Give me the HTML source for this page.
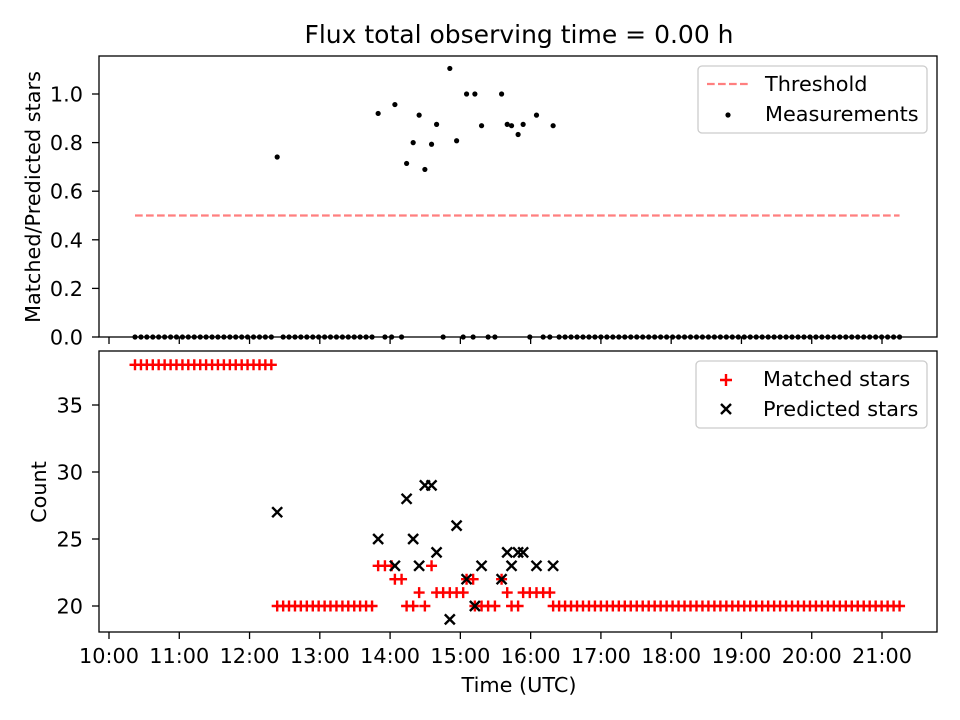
<!DOCTYPE html>
<html><head><meta charset="utf-8"><style>
html,body{margin:0;padding:0;background:#fff;}
svg{display:block;font-family:"DejaVu Sans","Liberation Sans",sans-serif;}
</style></head><body>
<svg id="fig" width="960" height="720" viewBox="0 0 960 720" xmlns="http://www.w3.org/2000/svg">
<rect width="960" height="720" fill="#fff"/>
<text x="519" y="43" font-size="25" text-anchor="middle">Flux total observing time = 0.00 h</text>
<g id="topPanel"></g>
<g id="botPanel"></g>
<text x="519" y="692" font-size="20.8" text-anchor="middle">Time (UTC)</text>
<text transform="translate(40,197) rotate(-90)" font-size="20.8" text-anchor="middle">Matched/Predicted stars</text>
<text transform="translate(46,492) rotate(-90)" font-size="20.8" text-anchor="middle">Count</text>
</svg>
<script>
// observation times in minutes after 10:00 UTC
const obsTimes = [22.2,27.3,32.3,37.4,42.4,47.5,52.6,57.6,62.7,67.7,72.8,77.9,82.9,88.0,93.0,98.1,103.2,108.2,113.3,118.3,123.4,128.5,133.5,138.6,
143.6,148.7,153.7,158.8,163.8,168.9,174.0,179.0,184.1,189.1,194.2,199.3,204.3,209.4,214.4,219.5,224.6,
229.8,235.6,241.3,244.1,249.8,254.1,259.7,264.8,269.7,275.4,279.7,285.3,291.0,296.8,302.4,305.3,310.9,312.4,318.1,323.7,329.5,335.2,340.0,343.7,349.3,353.6,359.3,365.0,370.7,376.4,
379.2,384.3,389.4,394.5,399.6,404.7,409.8,414.9,420.0,425.1,430.2,435.3,440.4,445.5,450.6,455.7,460.8,465.9,471.0,476.1,481.2,486.3,491.4,496.5,501.6,506.7,511.8,516.9,522.0,527.1,532.2,537.3,542.4,547.5,552.6,557.7,562.8,567.9,573.0,578.1,583.2,588.3,593.4,598.5,603.6,608.7,613.8,618.9,624.0,629.1,634.2,639.3,644.4,649.5,654.6,659.7,664.8,669.9,675.0];
const matchedVals = [38,38,38,38,38,38,38,38,38,38,38,38,38,38,38,38,38,38,38,38,38,38,38,38,
20,20,20,20,20,20,20,20,20,20,20,20,20,20,20,20,20,
23,23,23,22,22,20,20,21,20,23,21,21,21,21,21,22,22,20,20,20,20,22,21,20,20,21,21,21,21,21,
20,20,20,20,20,20,20,20,20,20,20,20,20,20,20,20,20,20,20,20,20,20,20,20,20,20,20,20,20,20,20,20,20,20,20,20,20,20,20,20,20,20,20,20,20,20,20,20,20,20,20,20,20,20,20,20,20,20,20];
// predicted counts (0 = no prediction)
const predictedVals = [0,0,0,0,0,0,0,0,0,0,0,0,0,0,0,0,0,0,0,0,0,0,0,0,
27,0,0,0,0,0,0,0,0,0,0,0,0,0,0,0,0,
25,0,0,23,0,28,25,23,29,29,24,0,19,26,0,22,0,20,23,0,0,22,24,23,24,24,0,23,0,0,
23,0,0,0,0,0,0,0,0,0,0,0,0,0,0,0,0,0,0,0,0,0,0,0,0,0,0,0,0,0,0,0,0,0,0,0,0,0,0,0,0,0,0,0,0,0,0,0,0,0,0,0,0,0,0,0,0,0,0];
const threshold = 0.5;
const xTickLabels = ["10:00","11:00","12:00","13:00","14:00","15:00","16:00","17:00","18:00","19:00","20:00","21:00"];
const xTickMins = [0,60,120,180,240,300,360,420,480,540,600,660];
const topTicks = [0,0.2,0.4,0.6,0.8,1.0];
const botTicks = [20,25,30,35];

const NS="http://www.w3.org/2000/svg";
function mk(tag,attrs,parent){const e=document.createElementNS(NS,tag);for(const k in attrs)e.setAttribute(k,attrs[k]);parent.appendChild(e);return e;}
const L=99,R=937,FS=20.8;
const xs=m=>109+(m)*(773/660);
const yTop=v=>337-v*243;
const yBot=v=>606-(v-20)*13.4;
const topG=document.getElementById('topPanel'), botG=document.getElementById('botPanel');

const th=mk('line',{x1:xs(obsTimes[0]),x2:xs(obsTimes[obsTimes.length-1]),y1:yTop(threshold),y2:yTop(threshold),stroke:'#ff7f7f','stroke-width':2.2,'stroke-dasharray':'7.7,3.3'},topG);


obsTimes.forEach((t,i)=>{
  const r=predictedVals[i]>0?matchedVals[i]/predictedVals[i]:0;
  const c=mk('circle',{cx:xs(t),cy:yTop(r),r:2.6,fill:'#000'},topG);
  
  
});
obsTimes.forEach((t,i)=>{
  const x=xs(t),y=yBot(matchedVals[i]),s=5.5;
  const p=mk('path',{d:`M${x-s},${y}H${x+s}M${x},${y-s}V${y+s}`,stroke:'#f00','stroke-width':2.4,fill:'none'},botG);
  
  
});
obsTimes.forEach((t,i)=>{
  if(predictedVals[i]<=0)return;
  const x=xs(t),y=yBot(predictedVals[i]),s=5;
  const p=mk('path',{d:`M${x-s},${y-s}L${x+s},${y+s}M${x-s},${y+s}L${x+s},${y-s}`,stroke:'#000','stroke-width':2.4,fill:'none'},botG);
  
  
});
mk('rect',{x:L,y:56,width:R-L,height:281,fill:'none',stroke:'#000','stroke-width':1.3},topG);
mk('rect',{x:L,y:351,width:R-L,height:281,fill:'none',stroke:'#000','stroke-width':1.3},botG);
xTickMins.forEach((m,i)=>{
  const x=xs(m);
  mk('line',{x1:x,x2:x,y1:337,y2:344,stroke:'#000','stroke-width':1.3},topG);
  mk('line',{x1:x,x2:x,y1:632,y2:639,stroke:'#000','stroke-width':1.3},botG);
  const t=mk('text',{x:x,y:663,'font-size':FS,'text-anchor':'middle'},botG);
  t.textContent=xTickLabels[i];
  
  
});
topTicks.forEach(v=>{
  const y=yTop(v);
  mk('line',{x1:L-7,x2:L,y1:y,y2:y,stroke:'#000','stroke-width':1.3},topG);
  const t=mk('text',{x:L-16,y:y+7.5,'font-size':FS,'text-anchor':'end'},topG);
  t.textContent=v.toFixed(1);
  
  
});
botTicks.forEach(v=>{
  const y=yBot(v);
  mk('line',{x1:L-7,x2:L,y1:y,y2:y,stroke:'#000','stroke-width':1.3},botG);
  const t=mk('text',{x:L-16,y:y+7.5,'font-size':FS,'text-anchor':'end'},botG);
  t.textContent=v;
  
  
});
function legend(parent,x,y,w,h,name){const r=mk('rect',{x:x,y:y,width:w,height:h,rx:4,fill:'#fff','fill-opacity':0.8,stroke:'#ccc','stroke-width':1.3},parent);}
legend(topG,698,66,229,67,'top-legend');
mk('line',{x1:707,x2:749,y1:84,y2:84,stroke:'#ff7f7f','stroke-width':2.2,'stroke-dasharray':'7.7,3.3'},topG);
let t=mk('text',{x:765,y:91,'font-size':FS},topG);t.textContent='Threshold';


mk('circle',{cx:728,cy:115,r:2.6,fill:'#000'},topG);
t=mk('text',{x:765,y:121,'font-size':FS},topG);t.textContent='Measurements';


legend(botG,696,361,231,67,'bottom-legend');
mk('path',{d:'M720,380H732M726,374V386',stroke:'#f00','stroke-width':2.4},botG);
t=mk('text',{x:763,y:386,'font-size':FS},botG);t.textContent='Matched stars';


mk('path',{d:'M721,404L731,414M721,414L731,404',stroke:'#000','stroke-width':2.4},botG);
t=mk('text',{x:763,y:416,'font-size':FS},botG);t.textContent='Predicted stars';


</script>
</body></html>
